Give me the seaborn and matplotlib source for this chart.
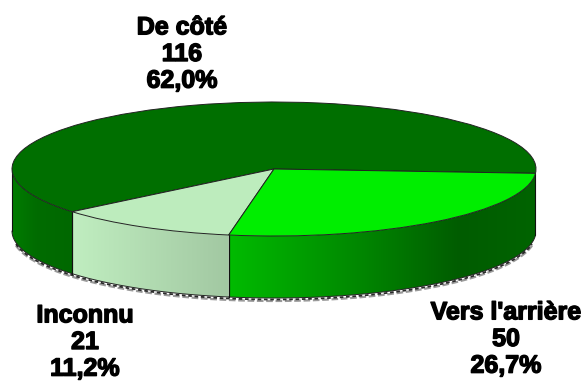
import numpy as np
import matplotlib
matplotlib.use("Agg")
import matplotlib.pyplot as plt
import matplotlib.patheffects as pe
from matplotlib.patches import PathPatch
from matplotlib.path import Path
import seaborn as sns

categories = ["De côté", "Inconnu", "Vers l'arrière"]
counts = [116, 21, 50]
percent_labels = ["62,0%", "11,2%", "26,7%"]
top_colors = ["#006f00", "#bdecbd", "#00ee00"]
wall_stops = [
    [(0.0, "#007c00"), (0.4, "#006c00"), (1.0, "#006800")],
    [(0.0, "#c0eec0"), (1.0, "#a2c8a2")],
    [(0.0, "#00bb00"), (0.45, "#008400"), (0.75, "#005c00"), (1.0, "#006400")],
]
start_angle = -3.7

sns.set_theme(style="white")
plt.rcParams["font.family"] = ["Liberation Sans", "DejaVu Sans"]

W, H = 587, 383
fig = plt.figure(figsize=(W / 100, H / 100), dpi=100, facecolor="white")
ax = fig.add_axes([0, 0, 1, 1])

cx, cy, rx, ry, depth = 274, 169, 262, 67, 62


def stop_color(stops, f):
    pos = [s[0] for s in stops]
    rgb = np.array([matplotlib.colors.to_rgb(s[1]) for s in stops])
    return np.column_stack([np.interp(f, pos, rgb[:, i]) for i in range(3)])


# top face, using the library's pie
ax.pie(counts, colors=top_colors, startangle=start_angle, counterclock=True,
       radius=1, center=(0, 0),
       wedgeprops=dict(edgecolor="#222222", linewidth=0.7, zorder=5))
ax.axis("off")
d = depth / ry
limits = ((-cx / rx, (W - cx) / rx), ((cy - H) / ry, cy / ry))

fracs = np.array(counts) / sum(counts)
edges = start_angle + 360 * np.concatenate([[0], np.cumsum(fracs)])

# drop shadow under the rim
t = np.radians(np.linspace(190, 350, 200))
ax.plot(np.cos(t), np.sin(t) - d - 3.0 / ry, color="#9a9a9a", lw=1.6,
        ls=(0, (3, 1.2)), zorder=1)
ax.plot(np.cos(t), np.sin(t) - d - 1.5 / ry, color="#2a2a2a", lw=1.3,
        ls=(0, (2, 1.5)), zorder=1.5)

for i, (a0, a1) in enumerate(zip(edges[:-1], edges[1:])):
    lo, hi = max(a0, 180), min(a1, 360)
    if hi <= lo:
        continue
    ang = np.radians(np.linspace(lo, hi, 160))
    xs, ys = np.cos(ang), np.sin(ang)
    verts = np.vstack([np.column_stack([xs, ys]),
                       np.column_stack([xs[::-1], ys[::-1] - d]),
                       [[xs[0], ys[0]]]])
    clip = PathPatch(Path(verts), transform=ax.transData, fc="none", ec="none")
    ax.add_patch(clip)
    grad = stop_color(wall_stops[i], np.linspace(0, 1, 300))[np.newaxis, :, :]
    im = ax.imshow(grad, extent=(xs.min(), xs.max(), ys.min() - d, ys.max()),
                   aspect="auto", interpolation="bilinear", zorder=2)
    im.set_clip_path(clip)
    ax.plot(xs, ys - d, color="#222222", lw=0.7, zorder=3)
    for a in (ang[0], ang[-1]):
        ax.plot([np.cos(a)] * 2, [np.sin(a), np.sin(a) - d], color="#111111",
                lw=0.8, zorder=3)

ax.set_aspect("auto")
ax.set_xlim(*limits[0])
ax.set_ylim(*limits[1])

# text labels in pixel positions
label_pos = {0: (182, 54), 1: (85, 342), 2: (506, 339)}
fx = lambda x: (x - cx) / rx
fy = lambda y: (cy - y) / ry
for i, name in enumerate(categories):
    x, y = label_pos[i]
    ax.text(fx(x), fy(y), f"{name}\n{counts[i]}\n{percent_labels[i]}", ha="center",
            va="center", fontsize=18, fontweight="bold", color="black",
            linespacing=1.14, zorder=6,
            path_effects=[pe.withStroke(linewidth=1.0, foreground="black")])

fig.savefig("out.png", dpi=100, facecolor="white")
